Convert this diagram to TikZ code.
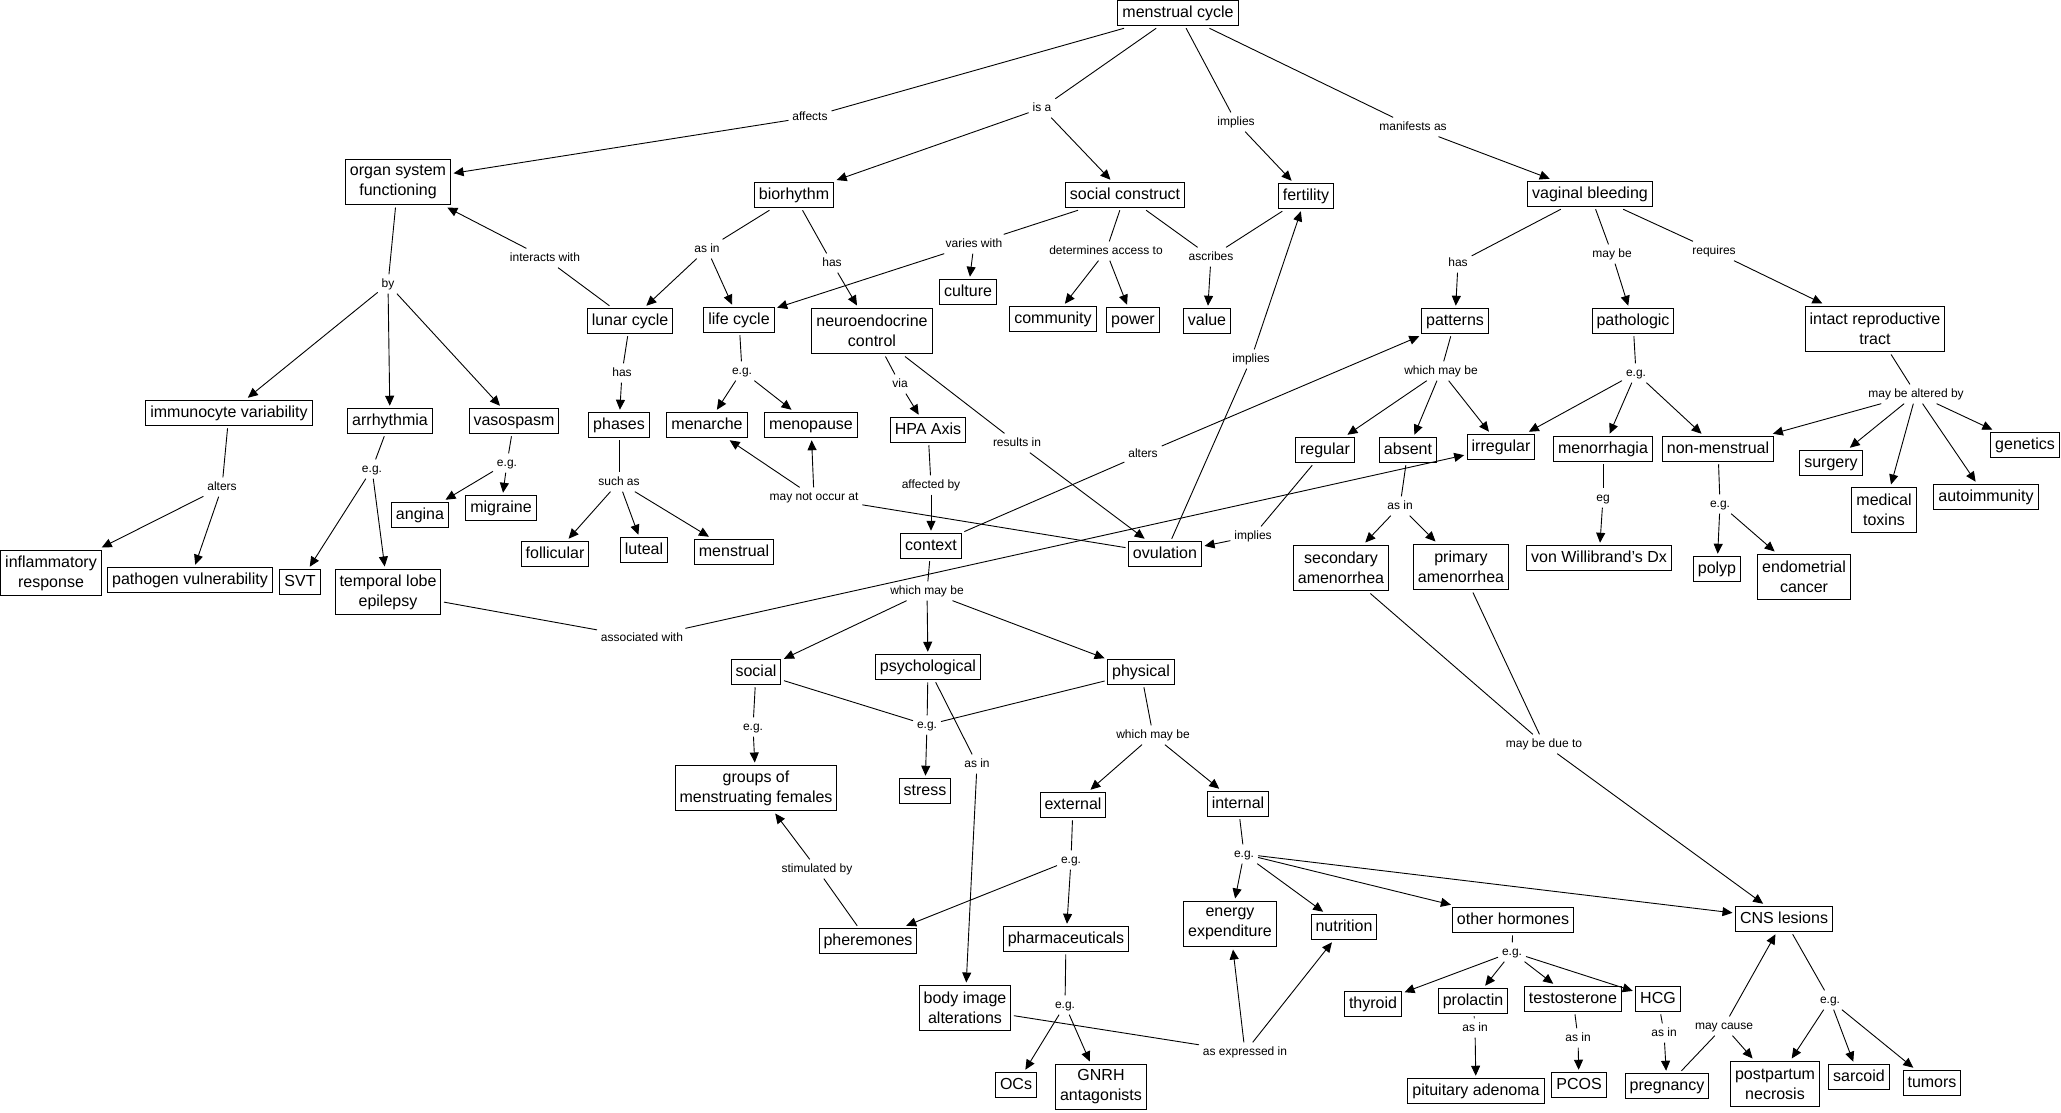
\documentclass[tikz,border=0pt]{standalone}
\usepackage{fontspec}
\setmainfont{Liberation Sans}
\usetikzlibrary{arrows.meta}
\tikzset{
 cbox/.style={draw, line width=1pt, inner xsep=4.5pt, inner ysep=4.5pt, text height=12pt, text depth=3.5pt, outer sep=3pt, font=\fontsize{16}{20}\selectfont},
 cboxtwo/.style={draw, line width=1pt, align=center, inner xsep=4.5pt, inner ysep=2pt, minimum height=45pt, outer sep=3pt, font=\fontsize{16}{20}\selectfont},
 lab/.style={inner sep=2.5pt, outer sep=1.5pt, font=\fontsize{12}{14}\selectfont, text height=8.8pt, text depth=2.5pt},
 conline/.style={line width=0.9pt},
 arrline/.style={line width=0.9pt, -{Triangle[length=10pt,width=9pt]}},
}
\begin{document}
\begin{tikzpicture}[x=1pt,y=-1pt]
\useasboundingbox (0,0) rectangle (2061,1112);
% concept nodes
\node[cbox] (mc) at (1178,13) {menstrual cycle};
\node[cboxtwo] (osf) at (398,182) {organ system\\functioning};
\node[cbox] (bio) at (794,195) {biorhythm};
\node[cbox] (sc) at (1125,195) {social construct};
\node[cbox] (fert) at (1306,196) {fertility};
\node[cbox] (vb) at (1590,194) {vaginal bleeding};
\node[cbox] (lunar) at (630,321) {lunar cycle};
\node[cbox] (life) at (739,320) {life cycle};
\node[cboxtwo] (neuro) at (872,331) {neuroendocrine\\control};
\node[cbox] (culture) at (968,292) {culture};
\node[cbox] (comm) at (1053,319) {community};
\node[cbox] (power) at (1133,320) {power};
\node[cbox] (value) at (1207,321) {value};
\node[cbox] (patt) at (1455,321) {patterns};
\node[cbox] (path) at (1633,321) {pathologic};
\node[cboxtwo] (intact) at (1875,329) {intact reproductive\\tract};
\node[cbox] (immuno) at (229,413) {immunocyte variability};
\node[cbox] (arrh) at (390,421) {arrhythmia};
\node[cbox] (vaso) at (514,421) {vasospasm};
\node[cbox] (angina) at (420,515) {angina};
\node[cbox] (migraine) at (501,508) {migraine};
\node[cboxtwo] (inflam) at (51,573) {inflammatory\\response};
\node[cbox] (pathogen) at (190,580) {pathogen vulnerability};
\node[cbox] (svt) at (300,582) {SVT};
\node[cboxtwo] (tle) at (388,592) {temporal lobe\\epilepsy};
\node[cbox] (phases) at (619,425) {phases};
\node[cbox] (menarche) at (707,425) {menarche};
\node[cbox] (menopause) at (811,425) {menopause};
\node[cbox] (hpa) at (928,430) {HPA Axis};
\node[cbox] (foll) at (555,554) {follicular};
\node[cbox] (luteal) at (644,550) {luteal};
\node[cbox] (menstrual) at (734,552) {menstrual};
\node[cbox] (context) at (931,546) {context};
\node[cbox] (social) at (756,672) {social};
\node[cbox] (psych) at (928,667) {psychological};
\node[cbox] (ovul) at (1165,554) {ovulation};
\node[cbox] (regular) at (1325,450) {regular};
\node[cbox] (absent) at (1408,450) {absent};
\node[cbox] (irreg) at (1501,447) {irregular};
\node[cboxtwo] (sec) at (1341,568) {secondary\\amenorrhea};
\node[cboxtwo] (prim) at (1461,567) {primary\\amenorrhea};
\node[cbox] (physical) at (1141,672) {physical};
\node[cbox] (vwd) at (1599,558) {von Willibrand's Dx};
\node[cbox] (menorr) at (1603,449) {menorrhagia};
\node[cbox] (nonmen) at (1718,449) {non-menstrual};
\node[cbox] (surgery) at (1831,463) {surgery};
\node[cboxtwo] (toxins) at (1884,510) {medical\\toxins};
\node[cbox] (autoimm) at (1986,497) {autoimmunity};
\node[cbox] (genetics) at (2025,445) {genetics};
\node[cbox] (polyp) at (1717,569) {polyp};
\node[cboxtwo] (endo) at (1804,577) {endometrial\\cancer};
\node[cboxtwo] (groups) at (756,788) {groups of\\menstruating females};
\node[cbox] (stress) at (925,791) {stress};
\node[cbox] (pher) at (868,941) {pheremones};
\node[cboxtwo] (body) at (965,1008) {body image\\alterations};
\node[cbox] (ocs) at (1016,1085) {OCs};
\node[cbox] (pharma) at (1066,939) {pharmaceuticals};
\node[cbox] (external) at (1073,805) {external};
\node[cbox] (internal) at (1238,804) {internal};
\node[cboxtwo] (energy) at (1230,924) {energy\\expenditure};
\node[cbox] (nutrition) at (1344,927) {nutrition};
\node[cbox] (other) at (1513,920) {other hormones};
\node[cboxtwo] (gnrh) at (1101,1087) {GNRH\\antagonists};
\node[cbox] (thyroid) at (1373,1004) {thyroid};
\node[cbox] (prolactin) at (1473,1001) {prolactin};
\node[cbox] (testo) at (1573,999) {testosterone};
\node[cbox] (pit) at (1476,1091) {pituitary adenoma};
\node[cbox] (cns) at (1784,919) {CNS lesions};
\node[cbox] (hcg) at (1658,999) {HCG};
\node[cbox] (pcos) at (1579,1085) {PCOS};
\node[cbox] (preg) at (1667,1086) {pregnancy};
\node[cboxtwo] (postp) at (1775,1084) {postpartum\\necrosis};
\node[cbox] (sarcoid) at (1859,1077) {sarcoid};
\node[cbox] (tumors) at (1932,1083) {tumors};
% label nodes
\node[lab] (lAffects) at (810,117) {affects};
\node[lab] (lIsa) at (1042,108) {is a};
\node[lab] (lImpliesA) at (1236,122) {implies};
\node[lab] (lManif) at (1413,127) {manifests as};
\node[lab] (lBy) at (388,284) {by};
\node[lab] (lInteracts) at (545,258) {interacts with};
\node[lab] (lAsinA) at (707,249) {as in};
\node[lab] (lHasA) at (832,263) {has};
\node[lab] (lVaries) at (974,244) {varies with};
\node[lab] (lDet) at (1106,251) {determines access to};
\node[lab] (lAscribes) at (1211,257) {ascribes};
\node[lab] (lHasB) at (1458,263) {has};
\node[lab] (lMaybe) at (1612,254) {may be};
\node[lab] (lRequires) at (1714,251) {requires};
\node[lab] (lImpliesB) at (1251,359) {implies};
\node[lab] (lWhichA) at (1441,371) {which may be};
\node[lab] (lEgPath) at (1636,373) {e.g.};
\node[lab] (lAltered) at (1916,394) {may be altered by};
\node[lab] (lAltersA) at (222,487) {alters};
\node[lab] (lEgArr) at (372,469) {e.g.};
\node[lab] (lEgVaso) at (507,463) {e.g.};
\node[lab] (lHasC) at (622,373) {has};
\node[lab] (lEgLife) at (742,371) {e.g.};
\node[lab] (lVia) at (900,384) {via};
\node[lab] (lResults) at (1017,443) {results in};
\node[lab] (lSuchas) at (619,482) {such as};
\node[lab] (lMaynot) at (814,497) {may not occur at};
\node[lab] (lAffected) at (931,485) {affected by};
\node[lab] (lWhichB) at (927,591) {which may be};
\node[lab] (lAssoc) at (642,638) {associated with};
\node[lab] (lEgSocial) at (753,727) {e.g.};
\node[lab] (lEgPsych) at (927,725) {e.g.};
\node[lab] (lAltersB) at (1143,454) {alters};
\node[lab] (lImpliesC) at (1253,536) {implies};
\node[lab] (lAsinB) at (1400,506) {as in};
\node[lab] (lWhichC) at (1153,735) {which may be};
\node[lab] (lEgMen) at (1603,498) {eg};
\node[lab] (lEgNon) at (1720,504) {e.g.};
\node[lab] (lAsinC) at (977,764) {as in};
\node[lab] (lStim) at (817,869) {stimulated by};
\node[lab] (lEgExt) at (1071,860) {e.g.};
\node[lab] (lEgInt) at (1244,854) {e.g.};
\node[lab] (lEgPharma) at (1065,1005) {e.g.};
\node[lab] (lExpr) at (1245,1052) {as expressed in};
\node[lab] (lEgOther) at (1512,952) {e.g.};
\node[lab] (lAsinProl) at (1475,1028) {as in};
\node[lab] (lDue) at (1544,744) {may be due to};
\node[lab] (lAsinTesto) at (1578,1038) {as in};
\node[lab] (lAsinHcg) at (1664,1033) {as in};
\node[lab] (lMaycause) at (1724,1026) {may cause};
\node[lab] (lEgCns) at (1830,1000) {e.g.};
% connectors
\draw[conline] (mc) -- (lAffects); \draw[arrline] (lAffects) -- (osf);
\draw[conline] (mc) -- (lIsa); \draw[arrline] (lIsa) -- (bio); \draw[arrline] (lIsa) -- (sc);
\draw[conline] (mc) -- (lImpliesA); \draw[arrline] (lImpliesA) -- (fert);
\draw[conline] (mc) -- (lManif); \draw[arrline] (lManif) -- (vb);
\draw[conline] (osf) -- (lBy); \draw[arrline] (lBy) -- (immuno); \draw[arrline] (lBy) -- (arrh); \draw[arrline] (lBy) -- (vaso);
\draw[conline] (lunar) -- (lInteracts); \draw[arrline] (lInteracts) -- (osf);
\draw[conline] (bio) -- (lAsinA); \draw[arrline] (lAsinA) -- (lunar); \draw[arrline] (lAsinA) -- (life);
\draw[conline] (bio) -- (lHasA); \draw[arrline] (lHasA) -- (neuro);
\draw[conline] (sc) -- (lVaries); \draw[arrline] (lVaries) -- (culture); \draw[arrline] (lVaries) -- (life);
\draw[conline] (sc) -- (lDet); \draw[arrline] (lDet) -- (comm); \draw[arrline] (lDet) -- (power);
\draw[conline] (sc) -- (lAscribes); \draw[conline] (fert) -- (lAscribes); \draw[arrline] (lAscribes) -- (value);
\draw[conline] (vb) -- (lHasB); \draw[arrline] (lHasB) -- (patt);
\draw[conline] (vb) -- (lMaybe); \draw[arrline] (lMaybe) -- (path);
\draw[conline] (vb) -- (lRequires); \draw[arrline] (lRequires) -- (intact);
\draw[conline] (immuno) -- (lAltersA); \draw[arrline] (lAltersA) -- (inflam); \draw[arrline] (lAltersA) -- (pathogen);
\draw[conline] (arrh) -- (lEgArr); \draw[arrline] (lEgArr) -- (svt); \draw[arrline] (lEgArr) -- (tle);
\draw[conline] (vaso) -- (lEgVaso); \draw[arrline] (lEgVaso) -- (angina); \draw[arrline] (lEgVaso) -- (migraine);
\draw[conline] (lunar) -- (lHasC); \draw[arrline] (lHasC) -- (phases);
\draw[conline] (phases) -- (lSuchas); \draw[arrline] (lSuchas) -- (foll); \draw[arrline] (lSuchas) -- (luteal); \draw[arrline] (lSuchas) -- (menstrual);
\draw[conline] (life) -- (lEgLife); \draw[arrline] (lEgLife) -- (menarche); \draw[arrline] (lEgLife) -- (menopause);
\draw[conline] (neuro) -- (lVia); \draw[arrline] (lVia) -- (hpa);
\draw[conline] (neuro) -- (lResults); \draw[arrline] (lResults) -- (ovul);
\draw[conline] (ovul) -- (lMaynot); \draw[arrline] (lMaynot) -- (menarche); \draw[arrline] (lMaynot) -- (menopause);
\draw[conline] (ovul) -- (lImpliesB); \draw[arrline] (lImpliesB) -- (fert);
\draw[conline] (hpa) -- (lAffected); \draw[arrline] (lAffected) -- (context);
\draw[conline] (context) -- (lAltersB); \draw[arrline] (lAltersB) -- (patt);
\draw[conline] (context) -- (lWhichB); \draw[arrline] (lWhichB) -- (social); \draw[arrline] (lWhichB) -- (psych); \draw[arrline] (lWhichB) -- (physical);
\draw[conline] (tle) -- (lAssoc); \draw[arrline] (lAssoc) -- (irreg);
\draw[conline] (regular) -- (lImpliesC); \draw[arrline] (lImpliesC) -- (ovul);
\draw[conline] (patt) -- (lWhichA); \draw[arrline] (lWhichA) -- (regular); \draw[arrline] (lWhichA) -- (absent); \draw[arrline] (lWhichA) -- (irreg);
\draw[conline] (path) -- (lEgPath); \draw[arrline] (lEgPath) -- (irreg); \draw[arrline] (lEgPath) -- (menorr); \draw[arrline] (lEgPath) -- (nonmen);
\draw[conline] (intact) -- (lAltered); \draw[arrline] (lAltered) -- (nonmen); \draw[arrline] (lAltered) -- (surgery); \draw[arrline] (lAltered) -- (toxins); \draw[arrline] (lAltered) -- (autoimm); \draw[arrline] (lAltered) -- (genetics);
\draw[conline] (absent) -- (lAsinB); \draw[arrline] (lAsinB) -- (sec); \draw[arrline] (lAsinB) -- (prim);
\draw[conline] (menorr) -- (lEgMen); \draw[arrline] (lEgMen) -- (vwd);
\draw[conline] (nonmen) -- (lEgNon); \draw[arrline] (lEgNon) -- (polyp); \draw[arrline] (lEgNon) -- (endo);
\draw[conline] (sec) -- (lDue); \draw[conline] (prim) -- (lDue); \draw[arrline] (lDue) -- (cns);
\draw[conline] (social) -- (lEgSocial); \draw[arrline] (lEgSocial) -- (groups);
\draw[conline] (social) -- (lEgPsych); \draw[conline] (psych) -- (lEgPsych); \draw[conline] (physical) -- (lEgPsych); \draw[arrline] (lEgPsych) -- (stress);
\draw[conline] (psych) -- (lAsinC); \draw[arrline] (lAsinC) -- (body);
\draw[conline] (physical) -- (lWhichC); \draw[arrline] (lWhichC) -- (external); \draw[arrline] (lWhichC) -- (internal);
\draw[conline] (pher) -- (lStim); \draw[arrline] (lStim) -- (groups);
\draw[conline] (external) -- (lEgExt); \draw[arrline] (lEgExt) -- (pher); \draw[arrline] (lEgExt) -- (pharma);
\draw[conline] (pharma) -- (lEgPharma); \draw[arrline] (lEgPharma) -- (ocs); \draw[arrline] (lEgPharma) -- (gnrh);
\draw[conline] (internal) -- (lEgInt); \draw[arrline] (lEgInt) -- (energy); \draw[arrline] (lEgInt) -- (nutrition); \draw[arrline] (lEgInt) -- (other); \draw[arrline] (lEgInt) -- (cns);
\draw[conline] (body) -- (lExpr); \draw[arrline] (lExpr) -- (energy); \draw[arrline] (lExpr) -- (nutrition);
\draw[conline] (other) -- (lEgOther); \draw[arrline] (lEgOther) -- (thyroid); \draw[arrline] (lEgOther) -- (prolactin); \draw[arrline] (lEgOther) -- (testo); \draw[arrline] (lEgOther) -- (hcg);
\draw[conline] (prolactin) -- (lAsinProl); \draw[arrline] (lAsinProl) -- (pit);
\draw[conline] (testo) -- (lAsinTesto); \draw[arrline] (lAsinTesto) -- (pcos);
\draw[conline] (hcg) -- (lAsinHcg); \draw[arrline] (lAsinHcg) -- (preg);
\draw[conline] (preg) -- (lMaycause); \draw[arrline] (lMaycause) -- (cns); \draw[arrline] (lMaycause) -- (postp);
\draw[conline] (cns) -- (lEgCns); \draw[arrline] (lEgCns) -- (postp); \draw[arrline] (lEgCns) -- (sarcoid); \draw[arrline] (lEgCns) -- (tumors);
\end{tikzpicture}
\end{document}
